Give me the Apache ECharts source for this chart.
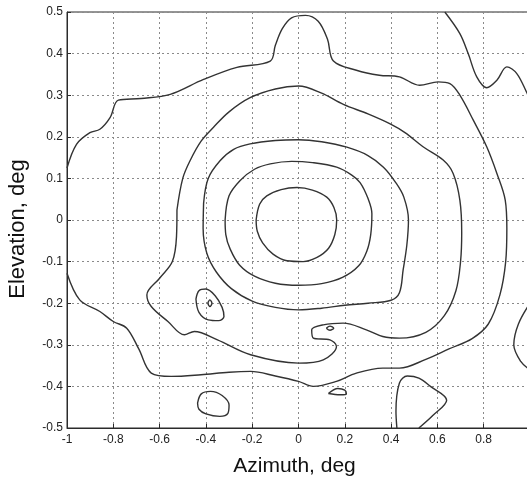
<!DOCTYPE html>
<html>
<head>
<meta charset="utf-8">
<title>Azimuth / Elevation contours</title>
<script src="https://cdn.jsdelivr.net/npm/echarts@6/dist/echarts.min.js"></script>
<style>
  html, body { margin: 0; padding: 0; background: #fff; }
  #chart { width: 527px; height: 481px; }
</style>
</head>
<body>
<div id="chart"></div>
<script>
// axis ticks (deg)
const xTicks = [-1, -0.8, -0.6, -0.4, -0.2, 0, 0.2, 0.4, 0.6, 0.8, 1];
const yTicks = [-0.5, -0.4, -0.3, -0.2, -0.1, 0, 0.1, 0.2, 0.3, 0.4, 0.5];

// contour lines, [azimuth, elevation]
const ring1 = [
  [-0.183, 0.0], [-0.168, 0.038], [-0.137, 0.058], [-0.075, 0.073], [-0.007, 0.078],
  [0.06, 0.072], [0.122, 0.055], [0.153, 0.03], [0.165, 0.0], [0.157, -0.035],
  [0.13, -0.068], [0.08, -0.09], [0.02, -0.1], [-0.05, -0.098], [-0.11, -0.082],
  [-0.155, -0.055], [-0.178, -0.027], [-0.183, 0.0]
];
const ring2 = [
  [-0.317, 0.0], [-0.3, 0.058], [-0.252, 0.095], [-0.19, 0.122], [-0.122, 0.135],
  [-0.03, 0.141], [0.06, 0.138], [0.165, 0.127], [0.23, 0.108], [0.266, 0.09],
  [0.3, 0.052], [0.317, 0.015], [0.312, -0.035], [0.295, -0.075], [0.26, -0.11],
  [0.19, -0.138], [0.1, -0.153], [0.0, -0.157], [-0.1, -0.152], [-0.19, -0.135],
  [-0.255, -0.108], [-0.295, -0.07], [-0.314, -0.035], [-0.317, 0.0]
];
const ring3 = [
  [-0.41, 0.04], [-0.39, 0.1], [-0.338, 0.143], [-0.28, 0.17], [-0.209, 0.183],
  [-0.1, 0.191], [0.0, 0.193], [0.1, 0.188], [0.209, 0.175], [0.3, 0.155],
  [0.367, 0.127], [0.42, 0.09], [0.455, 0.055], [0.475, 0.0], [0.468, -0.06],
  [0.452, -0.12], [0.436, -0.175], [0.4, -0.193], [0.3, -0.2], [0.2, -0.205],
  [0.1, -0.212], [0.0, -0.216], [-0.1, -0.21], [-0.2, -0.195], [-0.29, -0.165],
  [-0.355, -0.125], [-0.396, -0.08], [-0.412, -0.02], [-0.41, 0.04]
];
const ring4 = [
  [-0.525, 0.024], [-0.5, 0.1], [-0.468, 0.143], [-0.42, 0.19], [-0.367, 0.223],
  [-0.3, 0.26], [-0.209, 0.294], [-0.1, 0.315], [0.0, 0.322], [0.1, 0.305],
  [0.194, 0.278], [0.3, 0.255], [0.396, 0.231], [0.46, 0.21], [0.538, 0.176],
  [0.625, 0.144], [0.668, 0.112], [0.697, 0.048], [0.705, -0.03], [0.7, -0.1],
  [0.68, -0.17], [0.63, -0.23], [0.55, -0.27], [0.436, -0.284], [0.364, -0.28],
  [0.293, -0.264], [0.193, -0.248], [0.107, -0.252], [0.057, -0.264], [0.064, -0.284],
  [0.136, -0.288], [0.164, -0.304], [0.107, -0.336], [0.0, -0.344], [-0.207, -0.324],
  [-0.35, -0.288], [-0.45, -0.268], [-0.493, -0.276], [-0.564, -0.244], [-0.636, -0.208],
  [-0.655, -0.18], [-0.6, -0.14], [-0.545, -0.1], [-0.527, -0.04], [-0.525, 0.024]
];
const ring5 = [
  [-1.0, -0.128], [-0.945, -0.192], [-0.858, -0.22], [-0.8, -0.244], [-0.742, -0.26],
  [-0.69, -0.31], [-0.636, -0.368], [-0.55, -0.376], [-0.421, -0.372], [-0.3, -0.366],
  [-0.207, -0.364], [-0.1, -0.375], [0.0, -0.388], [0.064, -0.4], [0.164, -0.388],
  [0.25, -0.368], [0.364, -0.356], [0.436, -0.356], [0.55, -0.335], [0.65, -0.31],
  [0.75, -0.285], [0.82, -0.25], [0.87, -0.18], [0.895, -0.1], [0.9, -0.02],
  [0.893, 0.048], [0.857, 0.112], [0.813, 0.176], [0.755, 0.24], [0.697, 0.3],
  [0.654, 0.328], [0.603, 0.332], [0.523, 0.324], [0.436, 0.344], [0.349, 0.348],
  [0.25, 0.36], [0.151, 0.382], [0.125, 0.435], [0.085, 0.478], [0.03, 0.492],
  [-0.03, 0.486], [-0.07, 0.46], [-0.1, 0.42], [-0.122, 0.382], [-0.266, 0.367],
  [-0.41, 0.338], [-0.554, 0.302], [-0.68, 0.292], [-0.778, 0.288], [-0.814, 0.246],
  [-0.858, 0.218], [-0.901, 0.21], [-0.959, 0.182], [-1.0, 0.125]
];
const ridgeTop = [
  [0.632, 0.5], [0.697, 0.448], [0.733, 0.4], [0.77, 0.344], [0.813, 0.318],
  [0.857, 0.336], [0.9, 0.368], [0.943, 0.352], [0.988, 0.304], [1.0, 0.29]
];
const ridgeRight = [
  [1.0, -0.2], [0.95, -0.25], [0.93, -0.3], [0.96, -0.34], [1.0, -0.36]
];
const lobeBottom = [
  [0.425, -0.5], [0.421, -0.46], [0.436, -0.392], [0.47, -0.375], [0.52, -0.38],
  [0.57, -0.4], [0.64, -0.433], [0.58, -0.47], [0.52, -0.5]
];
const spotA = [
  [-0.443, -0.19], [-0.43, -0.17], [-0.4, -0.166], [-0.36, -0.182], [-0.33, -0.21],
  [-0.322, -0.232], [-0.345, -0.242], [-0.39, -0.24], [-0.43, -0.222], [-0.443, -0.19]
];
const spotB = [[-0.392, -0.2], [-0.383, -0.192], [-0.374, -0.2], [-0.383, -0.208], [-0.392, -0.2]];
const spotC = [[0.12, -0.26], [0.136, -0.255], [0.152, -0.26], [0.136, -0.265], [0.12, -0.26]];
const spotD = [
  [-0.436, -0.44], [-0.42, -0.418], [-0.38, -0.412], [-0.33, -0.422], [-0.3, -0.445],
  [-0.305, -0.465], [-0.34, -0.472], [-0.4, -0.466], [-0.43, -0.455], [-0.436, -0.44]
];
const spotE = [
  [0.129, -0.417], [0.17, -0.405], [0.2, -0.409], [0.207, -0.418], [0.18, -0.42], [0.129, -0.417]
];

const contours = [ring1, ring2, ring3, ring4, ring5, ridgeTop, ridgeRight, lobeBottom,
                  spotA, spotB, spotC, spotD, spotE];

function fmt(v) { return String(+v.toFixed(1)); }

const chart = echarts.init(document.getElementById('chart'));
chart.setOption({
  animation: false,
  backgroundColor: '#ffffff',
  textStyle: { fontFamily: 'Liberation Sans, Arial, sans-serif' },
  grid: {
    left: 67, right: -3, top: 12, bottom: 53,
    show: true, borderColor: '#2b2b2b', borderWidth: 1,
    outerBoundsMode: 'none'
  },
  xAxis: {
    type: 'value',
    min: xTicks[0], max: xTicks[xTicks.length - 1], interval: 0.2,
    name: 'Azimuth, deg', nameLocation: 'middle', nameGap: 28,
    nameTextStyle: { fontSize: 21, color: '#111', padding: [0, 8, 0, 0] },
    axisLine: { show: true, onZero: false, lineStyle: { color: '#2b2b2b' } },
    axisTick: { show: true, inside: true, length: 4, lineStyle: { color: '#2b2b2b' } },
    axisLabel: { fontSize: 12, color: '#222', margin: 6, formatter: fmt },
    splitLine: { show: true, lineStyle: { type: [2, 3], color: '#8a8a8a', width: 1 } }
  },
  yAxis: {
    type: 'value',
    min: yTicks[0], max: yTicks[yTicks.length - 1], interval: 0.1,
    name: 'Elevation, deg', nameLocation: 'middle', nameGap: 38,
    nameTextStyle: { fontSize: 22, color: '#111', padding: [0, 18, 0, 0] },
    axisLine: { show: true, onZero: false, lineStyle: { color: '#2b2b2b' } },
    axisTick: { show: true, inside: true, length: 4, lineStyle: { color: '#2b2b2b' } },
    axisLabel: { fontSize: 12, color: '#222', margin: 4, formatter: fmt },
    splitLine: { show: true, lineStyle: { type: [2, 3], color: '#8a8a8a', width: 1 } }
  },
  series: contours.map(function (pts) {
    return {
      type: 'line',
      data: pts,
      symbol: 'none',
      smooth: 0.35,
      silent: true,
      clip: true,
      lineStyle: { color: '#333', width: 1.4 }
    };
  })
});
</script>
</body>
</html>
